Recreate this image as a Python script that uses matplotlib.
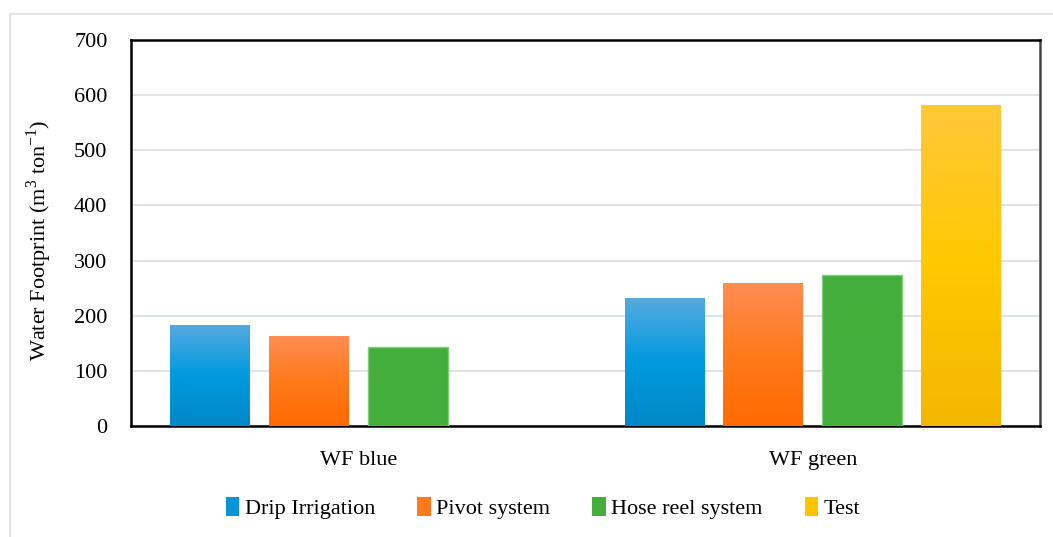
import numpy as np
import matplotlib
matplotlib.use("Agg")
import matplotlib.pyplot as plt
from matplotlib.patches import Rectangle, Patch
from matplotlib.colors import LinearSegmentedColormap

plt.rcParams['font.family'] = ['Liberation Serif', 'DejaVu Serif']
plt.rcParams['mathtext.fontset'] = 'custom'
plt.rcParams['mathtext.rm'] = 'Liberation Serif'

# data
categories = ['WF blue', 'WF green']
series = ['Drip Irrigation', 'Pivot system', 'Hose reel system', 'Test']
drip = [182, 232]
pivot = [163, 259]
hose = [143, 273]
test = [0, 582]
values = [drip, pivot, hose, test]

# top / middle / bottom shades of each bar
shades = [
    ['#55aae0', '#009ade', '#0088c8'],
    ['#ff8d52', '#ff7a1c', '#ff6a00'],
    ['#44ae3b', '#44ae3b', '#44ae3b'],
    ['#ffc83a', '#ffc800', '#f3b702'],
]
legend_colors = ['#0a94d6', '#ff7a1c', '#44ae3b', '#ffc400']

FS = 16

fig = plt.figure(figsize=(10.53, 5.37), dpi=100)
ax = fig.add_axes([131 / 1053, 111 / 537, 909 / 1053, 386 / 537])

# light frame around the chart area
fig.add_artist(Rectangle((10 / 1053, -0.05), 1.1, (537 - 14) / 537 + 0.05,
                         transform=fig.transFigure, fill=False,
                         edgecolor='#dfe5ec', linewidth=1.5))

n = len(series)
step = 0.217
width = 0.176
x = np.arange(len(categories))
for i, (vals, cols) in enumerate(zip(values, shades)):
    pos = x + (i - (n - 1) / 2) * step
    cmap = LinearSegmentedColormap.from_list(series[i], cols[::-1])
    grad = np.linspace(0, 1, 256).reshape(-1, 1)
    for p, v in zip(pos, vals):
        if v <= 0:
            continue
        ax.imshow(grad, cmap=cmap, origin='lower', aspect='auto',
                  extent=(p - width / 2, p + width / 2, 0, v), zorder=3)
        if i == 2:
            ax.add_patch(Rectangle((p - width / 2, 0), width, v, fill=False,
                                   edgecolor='#7fcf79', linewidth=1, zorder=4))

ax.set_xlim(-0.5, 1.5)
ax.set_ylim(0, 700)
ax.set_yticks(np.arange(0, 701, 100))
ax.set_xticks(x)
ax.set_xticklabels(categories)
ax.yaxis.grid(True, color='#dfe4ea', linewidth=1.5, zorder=0)
ax.set_axisbelow(True)
ax.tick_params(axis='both', length=0, labelsize=FS)
ax.tick_params(axis='y', pad=17)
ax.tick_params(axis='x', pad=18)
for s in ax.spines.values():
    s.set_linewidth(1.8)
    s.set_color('black')
ax.spines['right'].set_color('#444444')

ax.set_ylabel('Water Footprint (m$^{\\mathrm{3}}$ ton$^{\\mathrm{-1}}$)', fontsize=FS)
ax.yaxis.set_label_coords(-0.085, 0.48)

handles = [Patch(facecolor=c, edgecolor='none') for c in legend_colors]
fig.legend(handles, series, loc='center', bbox_to_anchor=(543 / 1053, 1 - 508 / 537),
           ncol=4, frameon=False, fontsize=FS, handlelength=0.6, handleheight=0.9,
           handletextpad=0.25, columnspacing=1.9)

fig.savefig('out.png', dpi=100)
